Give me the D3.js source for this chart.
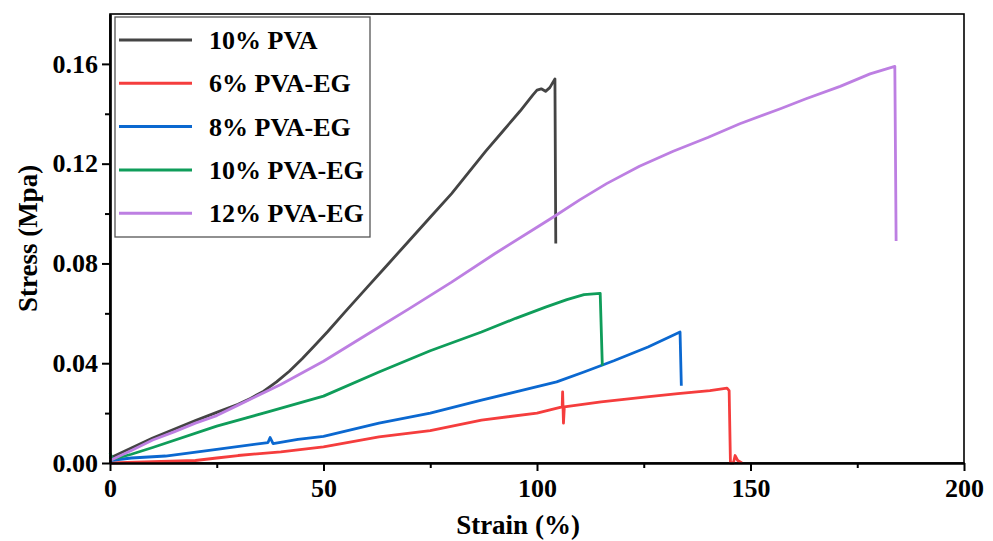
<!DOCTYPE html>
<html>
<head>
<meta charset="utf-8">
<script src="https://cdn.jsdelivr.net/npm/d3@7"></script>
<style>
  html, body { margin: 0; padding: 0; background: #fff; }
  svg { display: block; }
</style>
</head>
<body>
<svg id="chart" width="993" height="541"></svg>
<script>
// stress-strain curves, values: [strain %, stress MPa]
const pva10 = [
  [0, 0.002], [5, 0.006], [10, 0.010], [15, 0.0135], [20, 0.017], [25, 0.0203],
  [30, 0.0235], [33, 0.026], [36, 0.0288], [39, 0.0325], [42, 0.0368], [45, 0.0418],
  [48, 0.0472], [51, 0.0527], [55, 0.0605], [60, 0.070], [65, 0.0795], [70, 0.089],
  [75, 0.0985], [80, 0.108], [84, 0.1165], [88, 0.125], [92, 0.133], [96, 0.141],
  [99, 0.1475], [100, 0.1495], [101, 0.150], [102, 0.149], [103, 0.1505],
  [104.2, 0.154], [104.4, 0.088]
];
const pvaEg6 = [
  [0, 0.0], [10, 0.0005], [20, 0.001], [25, 0.002], [30, 0.003], [40, 0.0045],
  [50, 0.0065], [63, 0.0105], [75, 0.013], [87, 0.0172], [100, 0.020], [105.9, 0.0225],
  [106.0, 0.0285], [106.2, 0.016], [106.4, 0.0225], [115, 0.0245], [125.7, 0.0265],
  [133, 0.0278], [140.5, 0.029], [144.5, 0.030], [145, 0.029], [145.3, 0.0],
  [146, 0.0], [146.4, 0.003], [147, 0.001], [148, 0.0]
];
const pvaEg8 = [
  [0, 0.001], [5, 0.002], [13, 0.0028], [25, 0.0055], [37, 0.0082], [37.5, 0.0102],
  [38.2, 0.0078], [44, 0.0095], [50, 0.0107], [63, 0.016], [75, 0.020], [87, 0.0252],
  [95, 0.0285], [104.6, 0.0325], [111, 0.0365], [118, 0.041], [126, 0.0465],
  [133.5, 0.0525], [133.8, 0.031]
];
const pvaEg10 = [
  [0, 0.004], [0.6, 0.0015], [5, 0.0035], [10, 0.0062], [25, 0.0148], [37, 0.0205],
  [50, 0.0268], [63, 0.0365], [75, 0.045], [87, 0.0525], [95, 0.058], [102, 0.0625],
  [107, 0.0655], [111, 0.0675], [114.8, 0.068], [115.3, 0.039]
];
const pvaEg12 = [
  [0, 0.001], [5, 0.005], [10, 0.0092], [15, 0.0125], [20, 0.016], [25, 0.019],
  [30, 0.0232], [40, 0.0315], [50, 0.0408], [60, 0.0513], [70, 0.0618], [80, 0.0725],
  [90, 0.0838], [100, 0.0945], [104.2, 0.0990], [110, 0.1055], [116.3, 0.112],
  [124, 0.119], [131.9, 0.125], [140, 0.1305], [147.5, 0.136], [157, 0.142],
  [163, 0.146], [171, 0.151], [178, 0.156], [183.8, 0.159], [184.1, 0.089]
];

const seriesNames = ["10% PVA", "6% PVA-EG", "8% PVA-EG", "10% PVA-EG", "12% PVA-EG"];
const seriesData = [pva10, pvaEg6, pvaEg8, pvaEg10, pvaEg12];
const seriesColors = ["#444444", "#f53d3d", "#0b68d0", "#0f9d5a", "#bd7fe2"];

const xTicks = [0, 50, 100, 150, 200];
const yTicks = [0, 0.04, 0.08, 0.12, 0.16];

const FONT = "'Liberation Serif', 'Times New Roman', Times, serif";
const margin = { left: 110, right: 29, top: 14, bottom: 78 };
const W = 993, H = 541;

const svg = d3.select("#chart");

const x = d3.scaleLinear().domain([0, 200]).range([margin.left, W - margin.right]);
const y = d3.scaleLinear().domain([0, 0.18]).range([H - margin.bottom, margin.top]);

// frame (top and right)
svg.append("rect")
  .attr("x", x(0)).attr("y", y(0.18))
  .attr("width", x(200) - x(0)).attr("height", y(0) - y(0.18))
  .attr("fill", "none").attr("stroke", "#000").attr("stroke-width", 1.6);

// curves
const line = d3.line().x(d => x(d[0])).y(d => y(d[1]));
svg.append("g").selectAll("path")
  .data(seriesData)
  .join("path")
  .attr("d", line)
  .attr("fill", "none")
  .attr("stroke", (d, i) => seriesColors[i])
  .attr("stroke-width", 2.8)
  .attr("stroke-linejoin", "round");

// axes
const xAxis = svg.append("g")
  .attr("transform", `translate(0,${y(0)})`)
  .call(d3.axisBottom(x).tickValues(xTicks).tickSize(8).tickSizeOuter(0).tickPadding(8));
const xMinor = svg.append("g")
  .attr("transform", `translate(0,${y(0)})`)
  .call(d3.axisBottom(x).tickValues([25, 75, 125, 175]).tickSize(5).tickSizeOuter(0).tickFormat(""));

const yAxis = svg.append("g")
  .attr("transform", `translate(${x(0)},0)`)
  .call(d3.axisLeft(y).tickValues(yTicks).tickSize(8).tickSizeOuter(0).tickPadding(4)
    .tickFormat(d3.format(".2f")));
const yMinor = svg.append("g")
  .attr("transform", `translate(${x(0)},0)`)
  .call(d3.axisLeft(y).tickValues([0.02, 0.06, 0.10, 0.14]).tickSize(5).tickSizeOuter(0).tickFormat(""));

[xAxis, xMinor, yAxis, yMinor].forEach(g => {
  g.select(".domain").attr("stroke", "#000").attr("stroke-width", 2.2);
  g.selectAll(".tick line").attr("stroke", "#000").attr("stroke-width", 2);
  g.selectAll(".tick text")
    .attr("fill", "#000")
    .style("font-family", FONT)
    .style("font-weight", "bold")
    .style("font-size", "26px");
});

// axis titles
svg.append("text")
  .attr("x", 518).attr("y", 534)
  .attr("text-anchor", "middle")
  .style("font-family", FONT).style("font-weight", "bold").style("font-size", "27px")
  .text("Strain (%)");

svg.append("text")
  .attr("transform", `translate(37,${(y(0) + y(0.18)) / 2}) rotate(-90)`)
  .attr("text-anchor", "middle")
  .style("font-family", FONT).style("font-weight", "bold").style("font-size", "27px")
  .text("Stress (Mpa)");

// legend
const legend = svg.append("g");
legend.append("rect")
  .attr("x", 115).attr("y", 17).attr("width", 255).attr("height", 220)
  .attr("fill", "#fff").attr("stroke", "#555").attr("stroke-width", 1.3);

const rows = legend.selectAll("g.row")
  .data(seriesNames)
  .join("g")
  .attr("class", "row")
  .attr("transform", (d, i) => `translate(0,${40 + i * 43.3})`);

rows.append("line")
  .attr("x1", 119).attr("x2", 192)
  .attr("stroke", (d, i) => seriesColors[i])
  .attr("stroke-width", 3);

rows.append("text")
  .attr("x", 209).attr("y", 9)
  .style("font-family", FONT).style("font-weight", "bold").style("font-size", "26px")
  .text(d => d);
</script>
</body>
</html>
